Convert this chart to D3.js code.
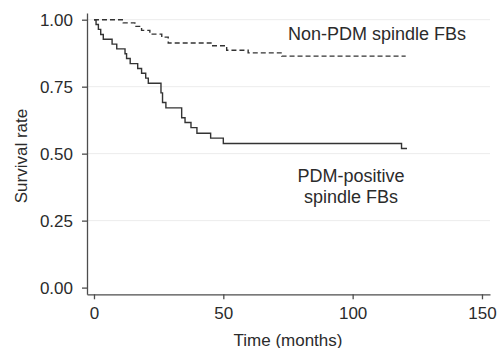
<!DOCTYPE html>
<meta charset="utf-8">
<script src="https://cdn.jsdelivr.net/npm/d3@7"></script>
<style>
body { margin: 0; background: #fff; }
text { font-family: "Liberation Sans", Arial, sans-serif; fill: #2b2b2b; }
.axis path, .axis line { stroke: #4d4d4d; stroke-width: 1.3px; }
.axis text { font-size: 17px; fill: #2b2b2b; }
.grid line { stroke: #ececec; stroke-width: 1px; }
path.km { fill: none; stroke: #333; stroke-width: 1.4px; }
</style>
<body>
<script>

// survival curves (time in months, survival proportion)
var pdmTime = [0, 0.8, 1.7, 2.6, 3.6, 7, 8.8, 12, 12.6, 14, 16.9, 18.4, 20, 21,
               25.9, 26.5, 27.8, 33.9, 35.2, 37.5, 39.8, 45.1, 50, 118.9, 121];
var pdmSurv = [1, 0.982, 0.964, 0.945, 0.927, 0.909, 0.891, 0.873, 0.855, 0.836, 0.818, 0.800, 0.782, 0.763,
               0.727, 0.691, 0.671, 0.634, 0.616, 0.597, 0.576, 0.558, 0.538, 0.519, 0.519];

var nonTime = [0, 11.3, 15.8, 18.4, 21.6, 26.2, 28.7, 45.5, 51.3, 59.6, 72.6, 120.5];
var nonSurv = [1, 0.988, 0.975, 0.960, 0.946, 0.935, 0.913, 0.903, 0.886, 0.876, 0.864, 0.864];

var xTicks = [0, 50, 100, 150];
var yTicks = [0, 0.25, 0.5, 0.75, 1];

var width = 501,
    height = 348;

var svg = d3.select("body").append("svg")
    .attr("width", width)
    .attr("height", height);

var x = d3.scaleLinear().domain([-2.7, 153.1]).range([87, 490]);
var y = d3.scaleLinear().domain([-0.025, 1.025]).range([294.3, 13]);

// grid lines
svg.append("g").attr("class", "grid")
  .selectAll("line")
  .data(yTicks.filter(function(d) { return d > 0; }))
  .enter().append("line")
  .attr("x1", x.range()[0]).attr("x2", x.range()[1])
  .attr("y1", function(d) { return y(d); })
  .attr("y2", function(d) { return y(d); });

// axes
var xAxis = svg.append("g").attr("class", "axis")
  .attr("transform", "translate(0," + y.range()[0] + ")")
  .call(d3.axisBottom(x).tickValues(xTicks).tickSize(5).tickSizeOuter(0).tickPadding(8)
        .tickFormat(d3.format("d")));

var yAxis = svg.append("g").attr("class", "axis")
  .attr("transform", "translate(" + x.range()[0] + ",0)")
  .call(d3.axisLeft(y).tickValues(yTicks).tickSize(5).tickSizeOuter(0).tickPadding(9)
        .tickFormat(d3.format(".2f")));

// curves
var line = d3.line()
    .x(function(d) { return x(d[0]); })
    .y(function(d) { return y(d[1]); })
    .curve(d3.curveStepAfter);

svg.append("path").attr("class", "km")
  .attr("d", line(d3.zip(nonTime, nonSurv)))
  .style("stroke-dasharray", "5,3");

svg.append("path").attr("class", "km")
  .attr("d", line(d3.zip(pdmTime, pdmSurv)));

// labels
svg.append("text")
  .attr("x", 377).attr("y", 39.5)
  .attr("text-anchor", "middle")
  .style("font-size", "18px")
  .text("Non-PDM spindle FBs");

var lab = svg.append("text")
  .attr("text-anchor", "middle")
  .style("font-size", "18px");
lab.append("tspan").attr("x", 351).attr("y", 181.7).text("PDM-positive");
lab.append("tspan").attr("x", 351).attr("y", 203.3).text("spindle FBs");

// axis titles
svg.append("text")
  .attr("x", 288).attr("y", 345.5)
  .attr("text-anchor", "middle")
  .style("font-size", "17px")
  .text("Time (months)");

svg.append("text")
  .attr("transform", "translate(26.5,156) rotate(-90)")
  .attr("text-anchor", "middle")
  .style("font-size", "17px")
  .text("Survival rate");

</script>
</body>
